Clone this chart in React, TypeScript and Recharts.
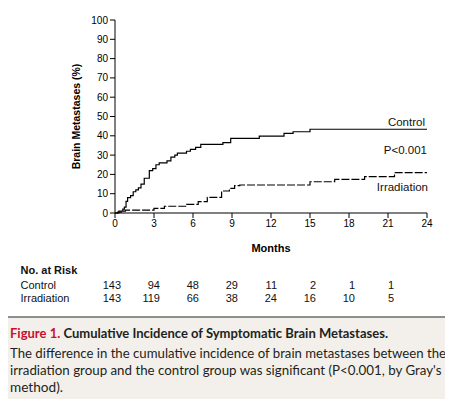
import React from 'react';
import { LineChart, Line, XAxis, YAxis } from 'recharts';

// cumulative incidence (%) by month
const controlMonths = [0, 0.3, 0.6, 0.72, 0.85, 0.97, 1.2, 1.4, 1.6, 1.8, 2.0, 2.25, 2.64, 2.9, 3.15, 3.4, 4.0, 4.3, 4.6, 4.8, 5.5, 5.8, 6.2, 6.6, 8.3, 8.9, 11.1, 13.0, 13.7, 15.0, 24];
const controlValues = [0, 1, 2, 3, 6, 8, 9, 11, 12, 13, 15, 18, 22, 23, 25, 26, 27, 29, 30, 31, 32, 33, 34, 35.6, 36.5, 38.7, 39.8, 41.3, 42.1, 43.4, 43.4];

const irradiationMonths = [0, 0.2, 0.5, 0.8, 3.0, 3.8, 5.5, 6.4, 7.1, 8.2, 8.8, 9.2, 9.6, 15.0, 16.9, 19.2, 21.5, 24];
const irradiationValues = [0, 0.5, 1, 1.5, 2.4, 3.5, 4.5, 5.9, 8.1, 11.4, 12.8, 14.2, 14.5, 16.2, 17.4, 18.8, 20.9, 20.9];

const xTicks = [0, 3, 6, 9, 12, 15, 18, 21, 24];
const yTicks = [0, 10, 20, 30, 40, 50, 60, 70, 80, 90, 100];

const riskControl = [143, 94, 48, 29, 11, 2, 1, 1];
const riskIrradiation = [143, 119, 66, 38, 24, 16, 10, 5];

const controlData = controlMonths.map((m, i) => ({ month: m, value: controlValues[i] }));
const irradiationData = irradiationMonths.map((m, i) => ({ month: m, value: irradiationValues[i] }));

const PLOT_LEFT = 115;
const PLOT_RIGHT = 427;
const monthX = (m: number) => PLOT_LEFT + (m / 24) * (PLOT_RIGHT - PLOT_LEFT);

const chartFont = '"Liberation Sans", Arial, sans-serif';
const captionFont = 'Lato, "Liberation Sans", sans-serif';

export default function App() {
  return (
    <div style={{ position: 'relative', width: 453, height: 407, margin: -8, background: '#fff', overflow: 'hidden' }}>
      <div style={{ position: 'absolute', left: 0, top: 0 }}>
        <LineChart width={453} height={260} margin={{ top: 20, right: 26, left: 0, bottom: 0 }}>
          <XAxis
            dataKey="month"
            type="number"
            domain={[0, 24]}
            ticks={xTicks}
            height={47}
            tickSize={5}
            stroke="#000"
            tick={{ fill: '#000', fontSize: 10, fontFamily: chartFont }}
            allowDuplicatedCategory={false}
            label={{ value: 'Months', position: 'insideBottom', offset: 8, style: { fontSize: 11, fontWeight: 'bold', fill: '#000', fontFamily: chartFont } }}
          />
          <YAxis
            type="number"
            domain={[0, 100]}
            ticks={yTicks}
            width={115}
            tickSize={5}
            stroke="#000"
            tick={{ fill: '#000', fontSize: 10, fontFamily: chartFont }}
            label={{ value: 'Brain Metastases (%)', angle: -90, position: 'insideLeft', offset: 76, style: { textAnchor: 'middle', fontSize: 10.5, fontWeight: 'bold', fill: '#000', fontFamily: chartFont } }}
          />
          <Line data={controlData} dataKey="value" type="stepAfter" stroke="#000" strokeWidth={1.2} dot={false} isAnimationActive={false} />
          <Line data={irradiationData} dataKey="value" type="stepAfter" stroke="#000" strokeWidth={1.2} strokeDasharray="8 2" dot={false} isAnimationActive={false} />
        </LineChart>
      </div>

      <svg width={453} height={407} style={{ position: 'absolute', left: 0, top: 0, pointerEvents: 'none' }}>
        <g fontFamily={chartFont} fontSize={11.5} fill="#111">
          <text x={425} y={126} textAnchor="end">Control</text>
          <text x={427} y={153.5} textAnchor="end">P&lt;0.001</text>
          <text x={428} y={190.5} textAnchor="end">Irradiation</text>
        </g>

        <g fontFamily={chartFont} fontSize={11} fill="#111">
          <text x={20.5} y={273.5} fontWeight="bold">No. at Risk</text>
          <text x={20.5} y={289}>Control</text>
          <text x={20.5} y={302}>Irradiation</text>
          {riskControl.map((n, i) => (
            <text key={'c' + i} x={monthX(xTicks[i]) + 6} y={289} textAnchor="end">{n}</text>
          ))}
          {riskIrradiation.map((n, i) => (
            <text key={'r' + i} x={monthX(xTicks[i]) + 6} y={302} textAnchor="end">{n}</text>
          ))}
        </g>

        <rect x={0} y={317} width={453} height={90} fill="#f3f0eb" />
        <line x1={0} x2={453} y1={317} y2={317} stroke="#6b6b6b" strokeWidth={1.5} />

        <g fontFamily={captionFont} fontSize={13}>
          <text x={10} y={338} textLength={378} lengthAdjust="spacingAndGlyphs" fontWeight="bold">
            <tspan fill="#c8102e">Figure 1. </tspan>
            <tspan fill="#231f20">Cumulative Incidence of Symptomatic Brain Metastases.</tspan>
          </text>
          <text x={10} y={357.5} fill="#231f20" textLength={436} lengthAdjust="spacingAndGlyphs">
            The difference in the cumulative incidence of brain metastases between the
          </text>
          <text x={10} y={374.5} fill="#231f20" textLength={431.5} lengthAdjust="spacingAndGlyphs">
            irradiation group and the control group was significant (P&lt;0.001, by Gray's
          </text>
          <text x={10} y={391.5} fill="#231f20" textLength={53} lengthAdjust="spacingAndGlyphs">
            method).
          </text>
        </g>
      </svg>
    </div>
  );
}
